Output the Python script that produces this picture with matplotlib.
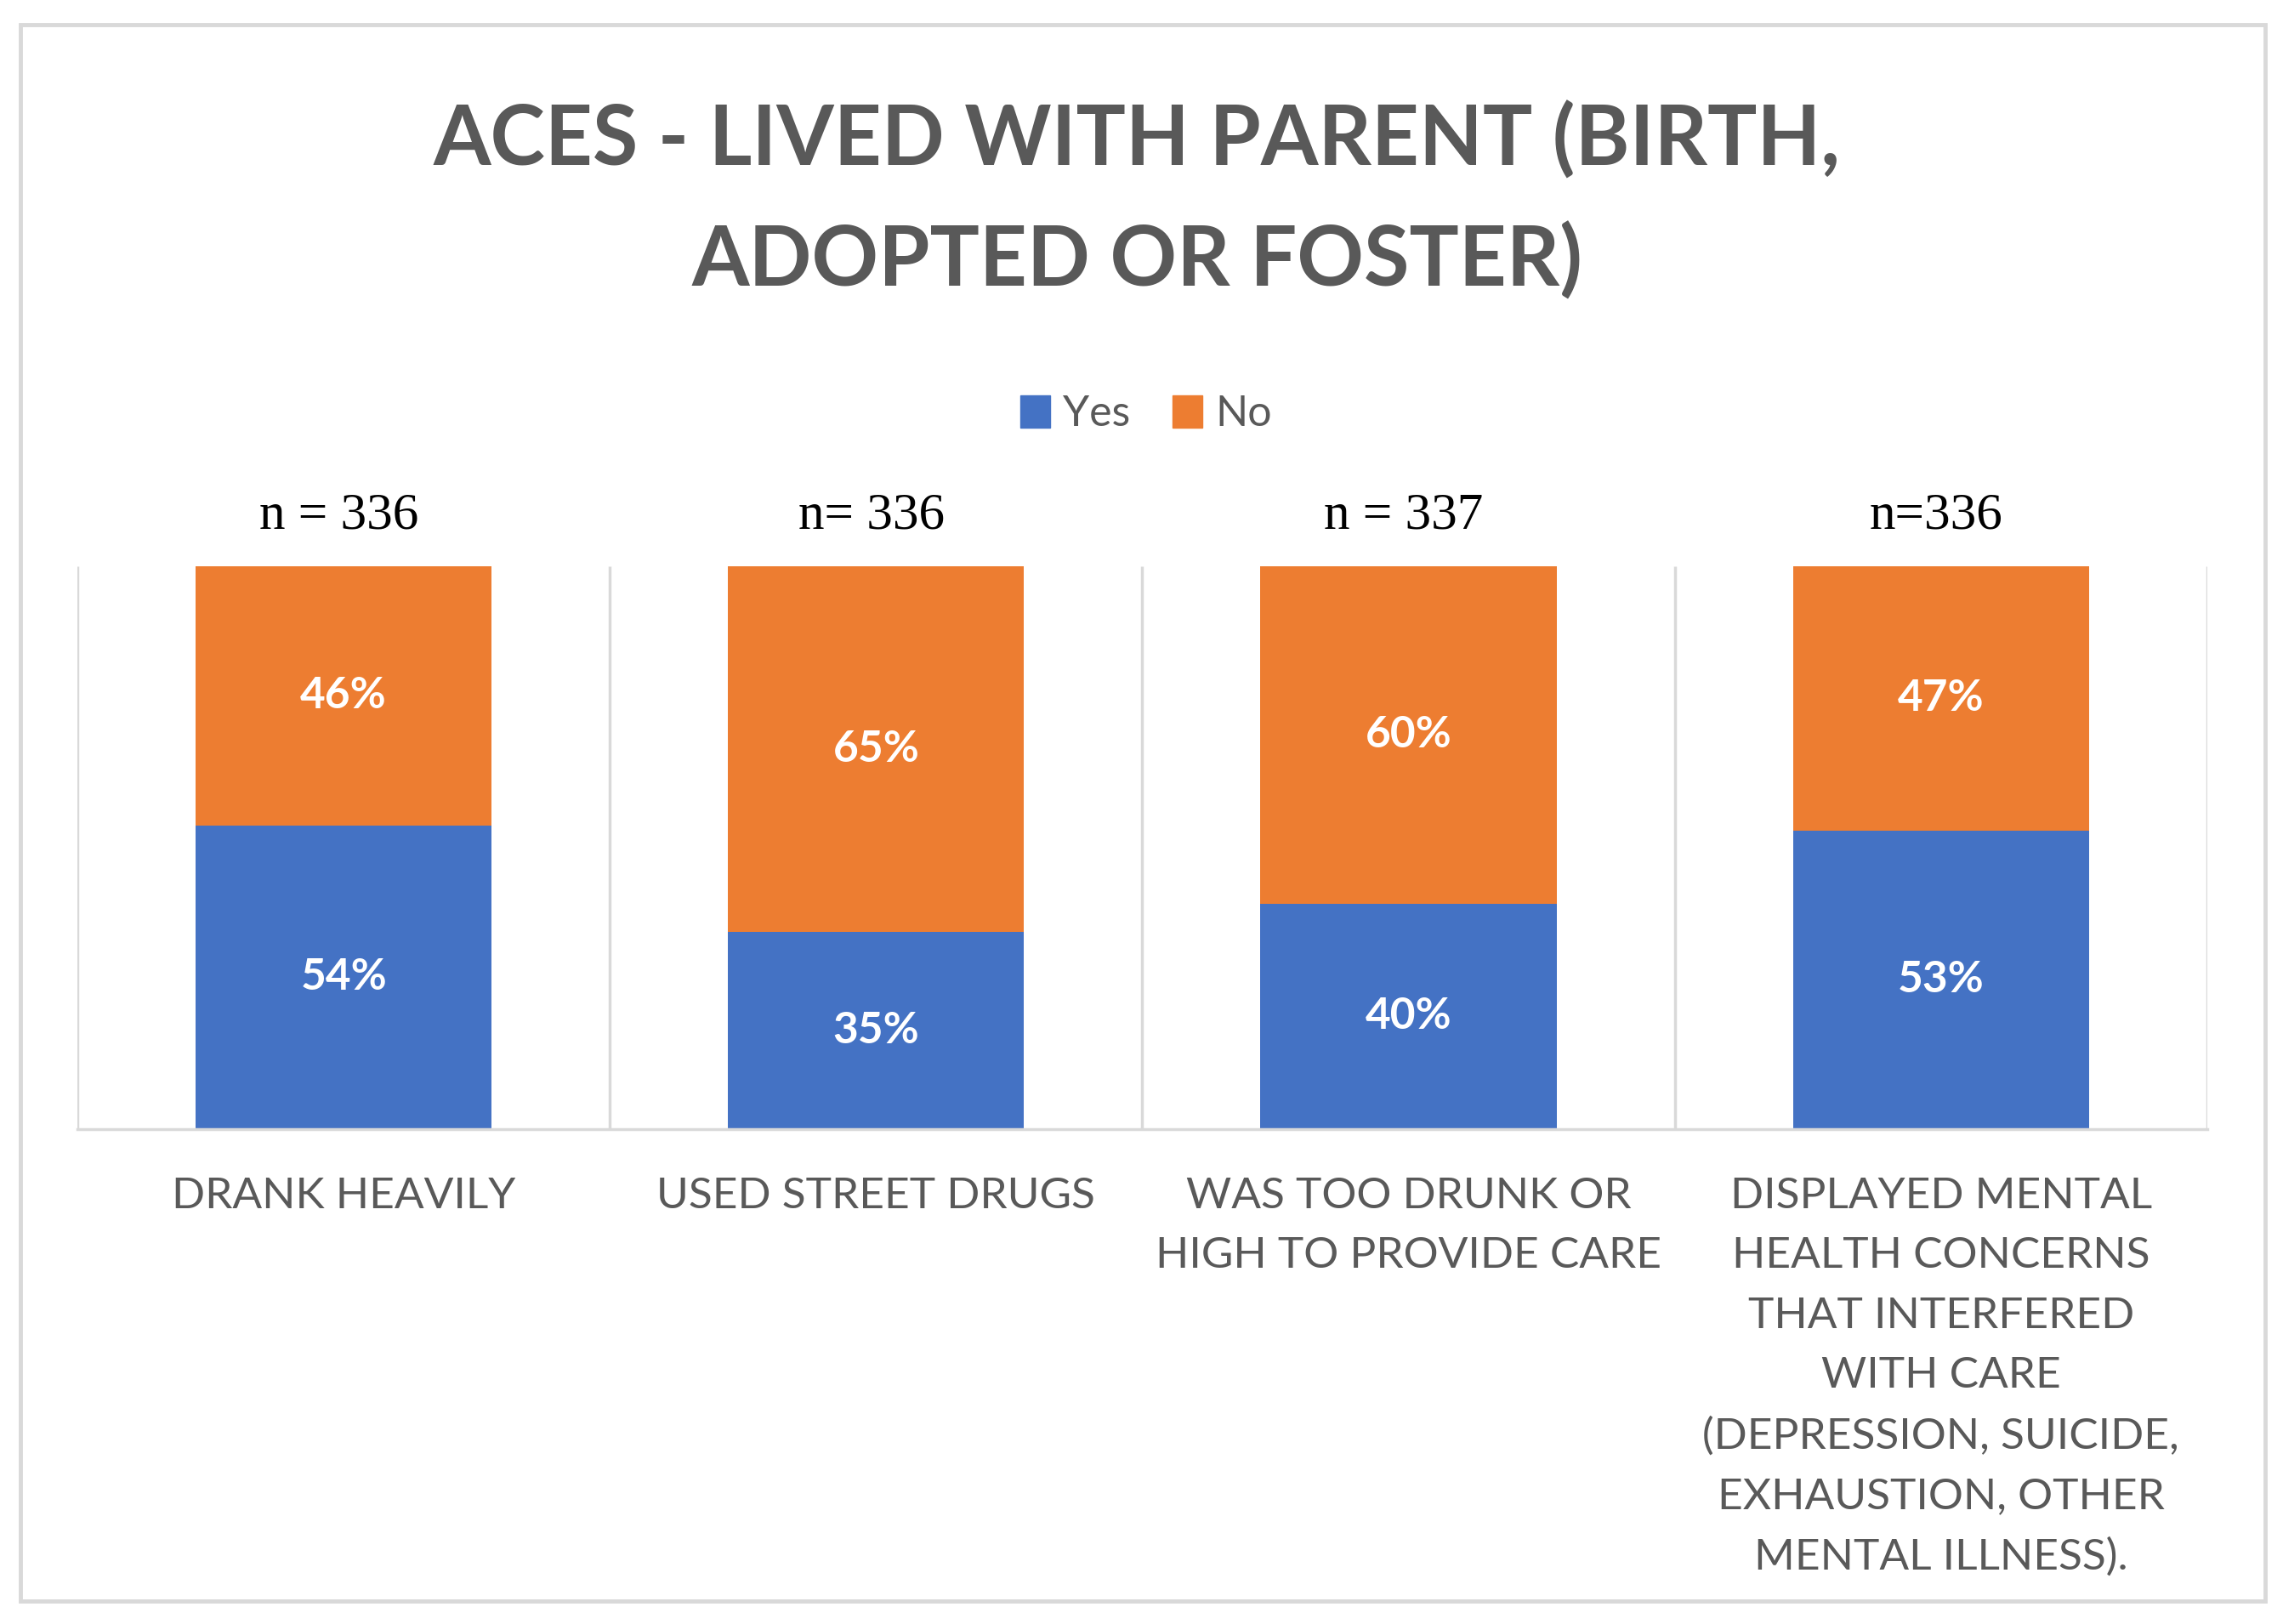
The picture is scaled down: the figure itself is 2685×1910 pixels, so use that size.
import matplotlib
matplotlib.use("Agg")
import matplotlib.pyplot as plt
from matplotlib.patches import Rectangle, Patch

# data
categories = [
    "DRANK HEAVILY",
    "USED STREET DRUGS",
    "WAS TOO DRUNK OR\nHIGH TO PROVIDE CARE",
    "DISPLAYED MENTAL\nHEALTH CONCERNS\nTHAT INTERFERED\nWITH CARE\n(DEPRESSION, SUICIDE,\nEXHAUSTION, OTHER\nMENTAL ILLNESS).",
]
yes_pct = [54, 35, 40, 53]
no_pct = [46, 65, 60, 47]
n_labels = ["n = 336", "n= 336", "n = 337", "n=336"]

BLUE = "#4472C4"
ORANGE = "#ED7D31"
GRID = "#D9D9D9"
TEXT = "#595959"
SANS = ["Lato", "DejaVu Sans"]
SERIF = ["Liberation Serif", "DejaVu Serif"]

fig = plt.figure(figsize=(26.85, 19.10), dpi=100)
ax = fig.add_axes([0.0339, 0.3046, 0.9329, 0.3468])

x = list(range(len(categories)))
bar_w = 0.556
ax.bar(x, yes_pct, width=bar_w, color=BLUE, zorder=2)
ax.bar(x, no_pct, bottom=yes_pct, width=bar_w, color=ORANGE, zorder=2)

ax.set_xlim(-0.5, len(categories) - 0.5)
ax.set_ylim(0, 100)

# category separators
ax.vlines([i - 0.5 for i in range(len(categories) + 1)], 0, 100,
          colors=GRID, lw=2.5, zorder=1)
for side in ["top", "left", "right"]:
    ax.spines[side].set_visible(False)
ax.spines["bottom"].set_color(GRID)
ax.spines["bottom"].set_linewidth(2.5)
ax.set_yticks([])

ax.set_xticks(x)
ax.set_xticklabels(categories, fontsize=37, color=TEXT, family=SANS,
                   linespacing=1.66, va="top")
ax.tick_params(axis="x", length=0, pad=40)

# percent labels inside segments
for i in x:
    ax.text(i, yes_pct[i] / 2, f"{yes_pct[i]}%", ha="center", va="center",
            color="white", fontsize=37, fontweight="bold", family=SANS)
    ax.text(i, yes_pct[i] + no_pct[i] / 2, f"{no_pct[i]}%", ha="center",
            va="center", color="white", fontsize=37, fontweight="bold",
            family=SANS)
    ax.annotate(n_labels[i], xy=(i, 100), xytext=(-4, 32),
                textcoords="offset points", ha="center", va="baseline",
                fontsize=44, color="black", family=SERIF)

fig.text(0.498, 0.877, "ACES - LIVED WITH PARENT (BIRTH,\nADOPTED OR FOSTER)",
         ha="center", va="center", fontsize=70, fontweight="bold",
         color=TEXT, family=SANS, linespacing=1.65)

handles = [Patch(color=BLUE, label="Yes"), Patch(color=ORANGE, label="No")]
fig.legend(handles=handles, loc="center", bbox_to_anchor=(0.502, 0.745),
           ncol=2, frameon=False, handlelength=0.7, handleheight=0.8,
           handletextpad=0.3, columnspacing=1.0, labelcolor=TEXT,
           prop={"family": SANS, "size": 36})

fig.add_artist(Rectangle((0.009, 0.014), 0.983, 0.971,
                         transform=fig.transFigure, fill=False,
                         edgecolor=GRID, lw=3.5))

fig.savefig("out.png", dpi=100)
